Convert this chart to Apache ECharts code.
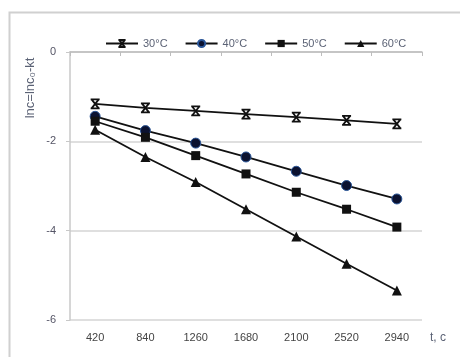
<!DOCTYPE html>
<html>
<head>
<meta charset="utf-8">
<script src="https://cdn.jsdelivr.net/npm/echarts@6/dist/echarts.min.js"></script>
<style>
  html, body { margin: 0; padding: 0; background: #fff; }
  #chart { width: 460px; height: 357px; }
</style>
</head>
<body>
<div id="chart"></div>
<script>
// time, s
const times = ['420', '840', '1260', '1680', '2100', '2520', '2940'];
const seriesNames = ['30°C', '40°C', '50°C', '60°C'];
const t30 = [-1.16, -1.25, -1.32, -1.39, -1.46, -1.53, -1.61];
const t40 = [-1.44, -1.76, -2.04, -2.35, -2.67, -2.99, -3.29];
const t50 = [-1.55, -1.91, -2.32, -2.73, -3.14, -3.52, -3.92];
const t60 = [-1.74, -2.35, -2.91, -3.52, -4.13, -4.74, -5.34];
const yTicks = [0, -2, -4, -6];

const chart = echarts.init(document.getElementById('chart'));

const lineBase = {
  type: 'line',
  smooth: false,
  lineStyle: { color: '#111', width: 1.8 },
  emphasis: { disabled: true }
};

const option = {
  animation: false,
  textStyle: { fontFamily: 'Liberation Sans, Arial, sans-serif' },
  grid: { left: 70, right: 38, top: 52, bottom: 37 },
  legend: {
    top: 33,
    left: 100,
    itemWidth: 32,
    itemHeight: 9,
    itemGap: 17,
    textStyle: { color: '#5b6275', fontSize: 11 },
    data: seriesNames
  },
  xAxis: {
    type: 'category',
    data: times,
    boundaryGap: true,
    axisLine: { lineStyle: { color: '#bdbdbd', width: 1.5 } },
    axisTick: { show: true, length: 4, lineStyle: { color: '#bdbdbd' } },
    axisLabel: { color: '#444', fontSize: 11, margin: 12 },
    splitLine: { show: false }
  },
  yAxis: {
    type: 'value',
    min: -6,
    max: 0,
    interval: 2,
    axisLine: { show: true, lineStyle: { color: '#c8c8c8', width: 1.5 } },
    axisTick: { show: true, length: 4, lineStyle: { color: '#c8c8c8' } },
    axisLabel: {
      color: '#556',
      fontSize: 11,
      margin: 14,
      formatter: v => yTicks.includes(v) ? String(v) : ''
    },
    splitLine: { lineStyle: { color: '#d4d4d4', width: 1.5 } }
  },
  graphic: [
    {
      type: 'rect',
      shape: { x: 9.5, y: 12.5, width: 470, height: 370 },
      style: { fill: 'none', stroke: '#d0d0d0', lineWidth: 2 },
      silent: true
    },
    {
      type: 'text',
      x: 30,
      y: 88,
      rotation: Math.PI / 2,
      style: {
        text: 'lnc=lnc₀-kt',
        fill: '#5b6275',
        fontSize: 13,
        align: 'center',
        verticalAlign: 'middle'
      }
    },
    {
      type: 'text',
      x: 430,
      y: 338,
      style: {
        text: 't, c',
        fill: '#5b6275',
        fontSize: 12,
        align: 'left',
        verticalAlign: 'middle'
      }
    }
  ],
  series: [
    Object.assign({}, lineBase, {
      name: seriesNames[0],
      data: t30,
      symbol: 'path://M1,0L9,10M9,0L1,10M0,0L10,0M0,10L10,10',
      symbolSize: 9,
      itemStyle: { color: '#111', borderColor: '#111', borderWidth: 1.8 }
    }),
    Object.assign({}, lineBase, {
      name: seriesNames[1],
      data: t40,
      symbol: 'circle',
      symbolSize: 10,
      itemStyle: { color: '#0b1230', borderColor: '#2a5597', borderWidth: 1 }
    }),
    Object.assign({}, lineBase, {
      name: seriesNames[2],
      data: t50,
      symbol: 'rect',
      symbolSize: 9,
      itemStyle: { color: '#111' }
    }),
    Object.assign({}, lineBase, {
      name: seriesNames[3],
      data: t60,
      symbol: 'triangle',
      symbolSize: 10,
      itemStyle: { color: '#111' }
    })
  ]
};

chart.setOption(option);
</script>
</body>
</html>
